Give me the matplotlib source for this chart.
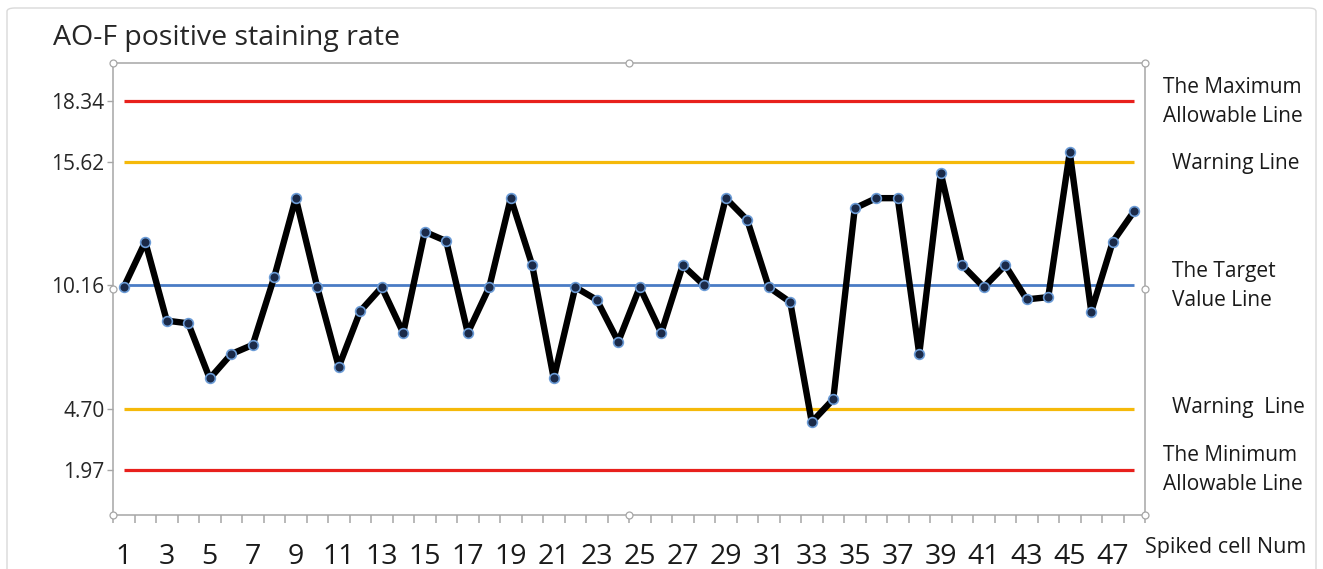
import matplotlib
matplotlib.use("Agg")
import matplotlib.pyplot as plt
from matplotlib.patches import FancyBboxPatch

plt.rcParams["font.family"] = ["Open Sans", "DejaVu Sans"]

# staining rate for each spiked cell sample (1..48)
sample_num = list(range(1, 49))
staining_rate = [
    10.08, 12.09, 8.60, 8.48, 6.04, 7.12, 7.53, 10.53, 14.02, 10.08,
    6.56, 9.02, 10.08, 8.06, 12.53, 12.12, 8.06, 10.08, 14.02, 11.05,
    6.04, 10.08, 9.52, 7.67, 10.08, 8.06, 11.05, 10.16, 14.02, 13.05,
    10.08, 9.42, 4.11, 5.12, 13.57, 14.02, 14.02, 7.12, 15.13, 11.05,
    10.08, 11.05, 9.54, 9.64, 16.05, 9.00, 12.09, 13.45,
]

# control limits
limit_values = [18.34, 15.62, 10.16, 4.70, 1.97]
limit_colors = ["#e8201c", "#f5b90a", "#4a7cc5", "#f5b90a", "#e8201c"]
limit_labels = [
    "The Maximum\nAllowable Line",
    "Warning Line",
    "The Target\nValue Line",
    "Warning  Line",
    "The Minimum\nAllowable Line",
]
x_tick_labels = [str(i) for i in range(1, 48, 2)]

W, H = 1323, 569
fig = plt.figure(figsize=(W / 100, H / 100), dpi=100)

# outer chart frame
frame = FancyBboxPatch((7 / W, -0.05), 1 - 14 / W, 1 - 8 / H + 0.05,
                       boxstyle="round,pad=0,rounding_size=0.006",
                       transform=fig.transFigure, facecolor="white",
                       edgecolor="#d9d9d9", linewidth=1.0, zorder=-5)
fig.patches.append(frame)

left, right, top, bottom = 113, 1145, 63, 515
ax = fig.add_axes([left / W, 1 - bottom / H, (right - left) / W, (bottom - top) / H])
ax.set_facecolor("none")
ax.set_zorder(2)

lw_map = {"#e8201c": 2.3, "#f5b90a": 2.3, "#4a7cc5": 2.0}
for val, col in zip(limit_values, limit_colors):
    ax.plot([sample_num[0], sample_num[-1]], [val, val], color=col,
            linewidth=lw_map[col], solid_capstyle="butt", zorder=2)

ax.plot(sample_num, staining_rate, color="black", linewidth=4.6,
        solid_joinstyle="round", solid_capstyle="round", zorder=3)
ax.plot(sample_num, staining_rate, linestyle="none", marker="o", markersize=7,
        markerfacecolor="#1b2a48", markeredgecolor="#6b9bd6",
        markeredgewidth=1.2, zorder=4)

ax.set_xlim(0.5, 48.5)
ax.set_ylim(0, 20)

for side in ["left", "bottom", "top", "right"]:
    ax.spines[side].set_color("#a6a6a6")
    ax.spines[side].set_linewidth(1.1)

ax.set_yticks(limit_values)
ax.set_yticklabels([f"{v:.2f}" for v in limit_values], fontsize=15, color="#262626")
ax.tick_params(axis="y", length=4, width=1, color="#a6a6a6", pad=2)

ax.set_xticks(range(1, 48, 2))
ax.set_xticklabels(x_tick_labels, fontsize=20.5, color="#1a1a1a")
ax.set_xticks([i + 0.5 for i in range(0, 49)], minor=True)
ax.tick_params(axis="x", which="major", length=0, pad=20)
ax.tick_params(axis="x", which="minor", length=6, width=1.1, color="#a6a6a6")

# selection handles on plot area
for hx, hy in [(0, 1), (0.5, 1), (1, 1), (0, 0), (0.5, 0), (1, 0), (0, 0.5), (1, 0.5)]:
    ax.plot(hx, hy, marker="o", markersize=5, markerfacecolor="white",
            markeredgecolor="#a6a6a6", markeredgewidth=0.9,
            transform=ax.transAxes, clip_on=False, zorder=6)

fig.text(53 / W, 1 - 38 / H, "AO-F positive staining rate", fontsize=20.5,
         color="#262626", ha="left", va="center")

label_x = [1163, 1172, 1172, 1172, 1163]
label_y = [102, 163, 286, 408, 470]
for lbl, lx, ly in zip(limit_labels, label_x, label_y):
    fig.text(lx / W, 1 - ly / H, lbl, fontsize=15, color="#1a1a1a",
             ha="left", va="center", linespacing=1.5)

fig.text(1145 / W, 1 - 548 / H, "Spiked cell Num", fontsize=15.5, color="#1a1a1a",
         ha="left", va="center")

fig.savefig("out.png", dpi=100, facecolor="white")
